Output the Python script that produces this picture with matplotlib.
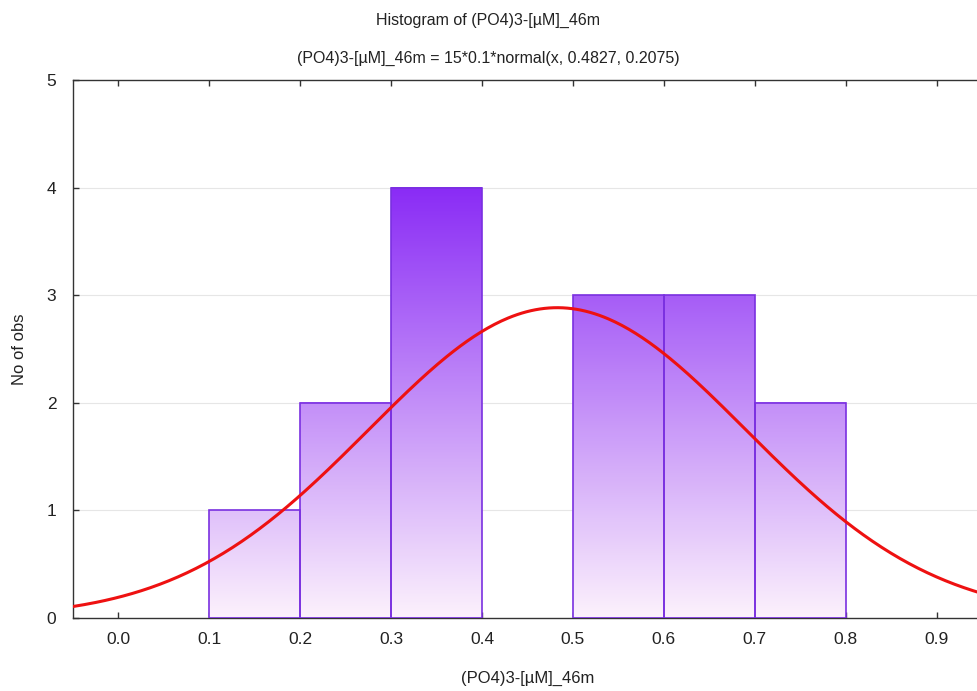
import numpy as np
import matplotlib
matplotlib.use("Agg")
import matplotlib.pyplot as plt
from matplotlib.colors import LinearSegmentedColormap
from matplotlib.patches import Rectangle

# Histogram data
bin_edges = [0.1, 0.2, 0.3, 0.4, 0.5, 0.6, 0.7, 0.8]
counts = [1, 2, 4, 0, 3, 3, 2]

# Fitted normal curve parameters
n_obs = 15
bin_width = 0.1
mu = 0.4827
sigma = 0.2075

x_ticks = [0.0, 0.1, 0.2, 0.3, 0.4, 0.5, 0.6, 0.7, 0.8, 0.9]
y_ticks = [0, 1, 2, 3, 4, 5]

plt.rcParams['font.family'] = ['Liberation Sans', 'DejaVu Sans']

fig = plt.figure(figsize=(9.77, 6.91), dpi=100)
ax = fig.add_axes([73 / 977, 1 - 618 / 691, (982 - 73) / 977, (618 - 80) / 691])

# Vertical gradient fill: color depends on absolute height
cmap = LinearSegmentedColormap.from_list("purp", ["#fcf1fc", "#8a2cf5"])
grad_top = 4.0
for x0, x1, c in zip(bin_edges[:-1], bin_edges[1:], counts):
    if c <= 0:
        continue
    yy = np.linspace(0, c, 200)[:, None] / grad_top
    ax.imshow(yy, extent=[x0, x1, 0, c], origin="lower", aspect="auto",
              cmap=cmap, vmin=0, vmax=1, zorder=2, interpolation="bilinear")
    ax.add_patch(Rectangle((x0, 0), x1 - x0, c, fill=False,
                           edgecolor="#7a30e0", linewidth=1.2, zorder=3))

ax.set_xlim(-0.05, 0.95)
ax.set_ylim(0, 5)

# Normal curve scaled to counts
xs = np.linspace(-0.05, 0.95, 400)
ys = n_obs * bin_width * np.exp(-0.5 * ((xs - mu) / sigma) ** 2) / (sigma * np.sqrt(2 * np.pi))
ax.plot(xs, ys, color="#ee1111", linewidth=2.2, zorder=4)

# Grid and axes styling
for yv in y_ticks[1:-1]:
    ax.axhline(yv, color="#e6e6e6", linewidth=0.8, zorder=1)

for side in ["top", "left", "bottom"]:
    ax.spines[side].set_color("#333333")
    ax.spines[side].set_linewidth(1.0)
ax.spines["right"].set_visible(False)

ax.set_xticks(x_ticks)
ax.set_xticklabels([f"{v:.1f}" for v in x_ticks])
ax.set_yticks(y_ticks)
ax.tick_params(axis="both", direction="in", length=4, width=1, color="#333333",
               labelsize=12.5, labelcolor="#222222")
ax.tick_params(axis="x", top=True, pad=10)
ax.tick_params(axis="y", pad=12)

ax.set_xlabel("(PO4)3-[µM]_46m", fontsize=12, color="#222222", labelpad=17)
ax.set_ylabel("No of obs", fontsize=12, color="#222222", labelpad=14)

fig.text(0.5, 1 - 20 / 691, "Histogram of (PO4)3-[µM]_46m", ha="center", va="center",
         fontsize=11.5, color="#222222")
fig.text(0.5, 1 - 58 / 691, "(PO4)3-[µM]_46m = 15*0.1*normal(x, 0.4827, 0.2075)",
         ha="center", va="center", fontsize=11.5, color="#222222")

fig.savefig("out.png", dpi=100)
